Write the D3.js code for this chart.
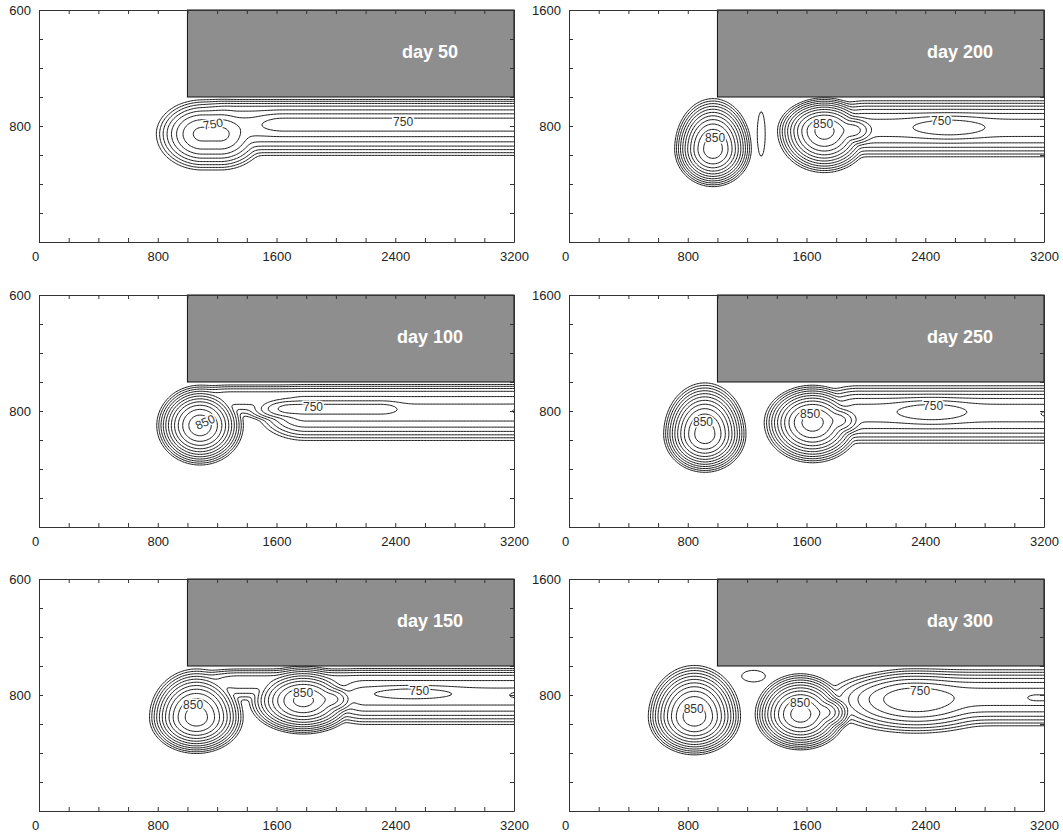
<!DOCTYPE html>
<html lang="en">
<head>
<meta charset="UTF-8" />
<title>Eddy shedding – six snapshots</title>
<script src="https://d3js.org/d3.v7.min.js"></script>
<style>
  body { margin: 0; background: #fff; }
  svg { display: block; font-family: "Liberation Sans", Arial, sans-serif; }
</style>
</head>
<body>
<svg id="chart" width="1063" height="832"></svg>
<script>
  // ---- data ----
  const days = [50, 100, 150, 200, 250, 300];
  const xTickValues = [0, 800, 1600, 2400, 3200];
  const yTickValues = [1600, 800];
  const yTickLabelsLeft = ["600", "800"];
  const yTickLabelsRight = ["1600", "800"];
  const levels = [600, 625, 650, 675, 700, 725, 750, 775, 800, 825, 850, 875];
  const baseValue = 575;
  const landCorner = [1000, 1000];

  // field features, one row each: [x1, x2, y, rx, ryNorth, rySouth, peak]
  const features50 = [
    [1300, 5000, 900, 400, 90, 150, 690],
    [1400, 5000, 795, 350, 195, 215, 738],
    [1100, 1220, 745, 330, 250, 265, 782],
    [1650, 5000, 812, 450, 150, 150, 762]
  ];
  const features100 = [
    [1300, 5000, 900, 400, 90, 150, 690],
    [1800, 5000, 790, 350, 200, 210, 738],
    [1085, 1085, 700, 305, 290, 285, 868],
    [1700, 2300, 815, 350, 110, 110, 762],
    [3250, 3300, 800, 200, 70, 70, 758]
  ];
  const features150 = [
    [1350, 5000, 900, 400, 90, 150, 690],
    [2200, 5000, 790, 350, 200, 210, 738],
    [1060, 1060, 645, 330, 350, 260, 865],
    [1780, 1780, 760, 380, 250, 240, 858],
    [1780, 1950, 770, 250, 140, 140, 815],
    [2520, 2520, 810, 800, 110, 110, 762],
    [3230, 3300, 800, 200, 70, 70, 758]
  ];
  const features200 = [
    [2000, 5000, 790, 350, 200, 220, 738],
    [970, 970, 640, 270, 365, 270, 866],
    [1295, 1295, 745, 47, 270, 270, 612],
    [1720, 1720, 765, 330, 240, 300, 860],
    [1720, 1900, 770, 250, 150, 150, 815],
    [2560, 2560, 790, 650, 150, 150, 768],
    [3260, 3320, 790, 180, 70, 70, 758]
  ];
  const features250 = [
    [1950, 5000, 790, 350, 200, 230, 738],
    [915, 915, 640, 290, 370, 275, 866],
    [1640, 1640, 720, 340, 270, 290, 862],
    [1640, 1800, 735, 250, 150, 150, 815],
    [2445, 2445, 795, 630, 150, 160, 768],
    [3240, 3300, 780, 200, 70, 70, 758]
  ];
  const features300 = [
    [2300, 5000, 790, 400, 200, 220, 738],
    [845, 845, 650, 325, 370, 275, 866],
    [1243, 1243, 930, 130, 65, 65, 615],
    [1560, 1560, 665, 320, 295, 255, 862],
    [1560, 1700, 680, 230, 150, 150, 815],
    [2340, 2340, 770, 650, 220, 250, 772],
    [3150, 3300, 780, 200, 70, 70, 758]
  ];

  // contour labels: [x, y, text, angle]
  const labels50 = [[1172, 814, "750", -10], [2453, 828, "750", 0]];
  const labels100 = [[1119, 724, "850", -25], [1846, 828, "750", 0]];
  const labels150 = [[1038, 731, "850", 0], [1779, 814, "850", 0], [2561, 828, "750", 0]];
  const labels200 = [[984, 717, "850", 0], [1712, 814, "850", 0], [2507, 834, "750", 0]];
  const labels250 = [[903, 724, "850", 0], [1624, 779, "850", 0], [2453, 834, "750", 0]];
  const labels300 = [[840, 703, "850", 0], [1557, 745, "850", 0], [2365, 828, "750", 0]];

  const featureSets = [features50, features100, features150, features200, features250, features300];
  const labelSets = [labels50, labels100, labels150, labels200, labels250, labels300];

  // ---- layout ----
  const svg = d3.select("#chart");
  const panelW = 475, panelH = 232;
  const colLeft = [39, 569];
  const rowTop = [10, 295, 579];

  const x = d3.scaleLinear().domain([0, 3200]).range([0, panelW]);
  const y = d3.scaleLinear().domain([0, 1600]).range([panelH, 0]);

  // grid for the contour generator
  const step = 10;
  const gx0 = -300, gx1 = 3500, gy0 = -200, gy1 = 1800;
  const nx = Math.round((gx1 - gx0) / step) + 1;
  const ny = Math.round((gy1 - gy0) / step) + 1;
  const T = 15;

  function fieldValue(feats, px, py) {
    const gs = feats.map(([x1, x2, yc, rx, ryN, ryS, peak]) => {
      const dx = px < x1 ? (px - x1) / rx : px > x2 ? (px - x2) / rx : 0;
      const dy = (py - yc) / (py > yc ? ryN : ryS);
      return Math.max(-400, (peak - baseValue) * (1 - dx * dx - dy * dy));
    });
    const m = d3.max(gs);
    return baseValue + m + T * Math.log(d3.sum(gs, g => Math.exp((g - m) / T)));
  }

  const contourGen = d3.contours().size([nx, ny]).thresholds(levels);

  days.forEach((day, k) => {
    const col = Math.floor(k / 3), row = k % 3;
    const g = svg.append("g")
      .attr("transform", `translate(${colLeft[col]},${rowTop[row]})`);

    const clipId = "clip" + k;
    g.append("clipPath").attr("id", clipId)
      .append("rect").attr("width", panelW).attr("height", panelH);

    const feats = featureSets[k];
    const values = new Float64Array(nx * ny);
    for (let j = 0; j < ny; j++) {
      for (let i = 0; i < nx; i++) {
        values[j * nx + i] = fieldValue(feats, gx0 + i * step, gy0 + j * step);
      }
    }

    const proj = d3.geoTransform({
      point: function (cx, cy) {
        this.stream.point(x(gx0 + (cx - 0.5) * step), y(gy0 + (cy - 0.5) * step));
      }
    });
    const path = d3.geoPath(proj);

    g.append("g").attr("clip-path", `url(#${clipId})`)
      .selectAll("path")
      .data(contourGen(values))
      .join("path")
      .attr("d", path)
      .attr("fill", "none")
      .attr("stroke", "#1a1a1a")
      .attr("stroke-width", 1);

    g.append("g")
      .selectAll("text")
      .data(labelSets[k])
      .join("text")
      .attr("transform", d => `translate(${x(d[0])},${y(d[1])}) rotate(${d[3]})`)
      .attr("dy", "0.35em")
      .attr("text-anchor", "middle")
      .attr("font-size", 12)
      .attr("fill", "#333")
      .attr("stroke", "#fff")
      .attr("stroke-width", 3)
      .attr("paint-order", "stroke")
      .text(d => d[2]);

    // land block
    g.append("rect")
      .attr("x", x(landCorner[0]))
      .attr("y", y(1600))
      .attr("width", x(3200) - x(landCorner[0]))
      .attr("height", y(landCorner[1]) - y(1600))
      .attr("fill", "#8e8e8e")
      .attr("stroke", "#111")
      .attr("stroke-width", 1);

    g.append("text")
      .attr("x", 391)
      .attr("y", 48)
      .attr("text-anchor", "middle")
      .attr("font-size", 18)
      .attr("font-weight", "bold")
      .attr("fill", "#fff")
      .text("day " + day);

    // axes, inward ticks on all sides
    const minor = d3.range(0, 3201, 200);
    const minorY = d3.range(0, 1601, 200);
    const yLabels = col === 0 ? yTickLabelsLeft : yTickLabelsRight;

    const axB = g.append("g").attr("transform", `translate(0,${panelH})`)
      .call(d3.axisBottom(x).tickValues(minor).tickSize(-4).tickSizeOuter(0).tickPadding(10)
        .tickFormat(d => xTickValues.includes(d) ? d : ""));
    axB.selectAll("text").filter(d => d === 0).attr("dx", "-0.3em");
    const axT = g.append("g")
      .call(d3.axisTop(x).tickValues(minor).tickSize(-4).tickSizeOuter(0).tickFormat(""));
    const axL = g.append("g")
      .call(d3.axisLeft(y).tickValues(minorY).tickSize(-4).tickSizeOuter(0).tickPadding(8)
        .tickFormat(d => {
          const idx = yTickValues.indexOf(d);
          return idx >= 0 ? yLabels[idx] : "";
        }));
    const axR = g.append("g").attr("transform", `translate(${panelW},0)`)
      .call(d3.axisRight(y).tickValues(minorY).tickSize(-4).tickSizeOuter(0).tickFormat(""));

    [axB, axT, axL, axR].forEach(a => {
      a.attr("font-size", 13).attr("font-family", "'Liberation Sans', Arial, sans-serif");
      a.selectAll("path, line").attr("stroke", "#333");
      a.selectAll("text").attr("fill", "#222");
    });
  });
</script>
</body>
</html>
